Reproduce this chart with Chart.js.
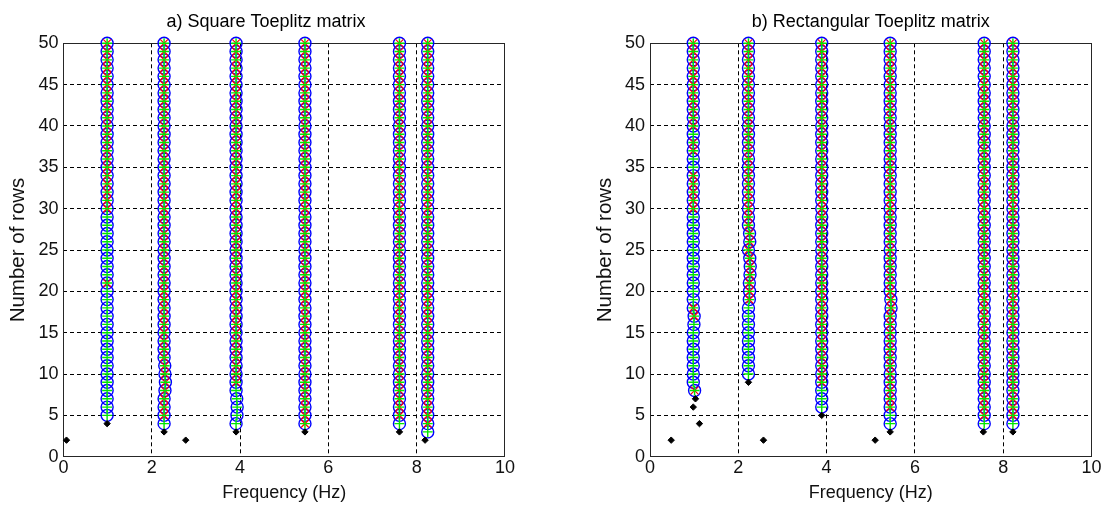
<!DOCTYPE html>
<html>
<head>
<meta charset="utf-8">
<script src="https://cdn.jsdelivr.net/npm/chart.js@4.4.1/dist/chart.umd.min.js"></script>
<style>
  html, body { margin: 0; padding: 0; background: #fff; overflow: hidden; }
  .plot { position: absolute; top: 0; }
  #plotA { left: 0; }
  #plotB { left: 585px; }
</style>
</head>
<body>
<div class="plot" id="plotA"><canvas id="chartA" width="532" height="511"></canvas></div>
<div class="plot" id="plotB"><canvas id="chartB" width="522" height="511"></canvas></div>
<script>
////////////////////////////////////////////////////////////////////////////////
// data

const maxRow = 50;
const xTicks = [0, 2, 4, 6, 8, 10];
const yTicks = [0, 5, 10, 15, 20, 25, 30, 35, 40, 45, 50];

// a) square Toeplitz matrix
const freqA = [0.99, 2.28, 3.91, 5.47, 7.61, 8.25];
const firstRowA = [5, 4, 4, 4, 4, 3];
const firstRedA = [30, 5, 9, 4, 5, 4];
const extraRedA = [[21], [], [], [], [], []];
const shiftA = [{}, {8: 0.02, 9: 0.03, 10: 0.02, 11: 0.015}, {5: 0.02, 6: 0.025, 7: 0.015}, {}, {}, {}];
const dotFreqA = [0.07, 0.99, 2.28, 2.77, 3.91, 5.47, 7.61, 8.19];
const dotRowA = [2, 4, 3, 2, 3, 3, 3, 2];

// b) rectangular Toeplitz matrix
const freqB = [0.98, 2.23, 3.89, 5.44, 7.57, 8.22];
const firstRowB = [8, 10, 6, 4, 4, 4];
const firstRedB = [40, 19, 9, 6, 5, 5];
const extraRedB = [[8, 17, 18, 30, 31, 32, 33, 34, 37, 38], [], [], [], [], []];
const shiftB = [{8: 0.03, 16: 0.015, 17: 0.02},
                {19: 0.02, 20: 0.025, 21: 0.02, 22: 0.035, 23: 0.04, 24: 0.03, 26: 0.03, 27: 0.025},
                {}, {18: 0.02, 19: 0.015}, {}, {}];
const dotFreqB = [0.48, 1.12, 0.98, 1.03, 2.23, 2.57, 3.89, 5.10, 5.44, 7.55, 8.22];
const dotRowB = [2, 4, 6, 7, 9, 2, 5, 2, 3, 3, 3];

////////////////////////////////////////////////////////////////////////////////

const FONT = "'Liberation Sans', Arial, sans-serif";
const TXT = '#111';

function buildSeries(freqs, firstRows, firstRed, extraRed, shifts) {
    const circles = [], pluses = [], crosses = [];
    freqs.forEach((f, i) => {
        for (let r = firstRows[i]; r <= maxRow; r++) {
            const x = f + (shifts[i][r] || 0);
            circles.push({x: x, y: r});
            pluses.push({x: x, y: r});
            if (r >= firstRed[i] || extraRed[i].includes(r)) crosses.push({x: x, y: r});
        }
    });
    return {circles, pluses, crosses};
}

// grid lines only inside the box, the box itself is drawn solid
const innerGrid = (first, last) => c =>
    (c.tick && (c.tick.value === first || c.tick.value === last)) ? 'rgba(0,0,0,0)' : '#000';

const framePlugin = {
    id: 'frame',
    beforeDatasetsDraw(chart) {
        const {ctx, chartArea: a} = chart;
        ctx.save();
        ctx.strokeStyle = '#262626';
        ctx.lineWidth = 1;
        ctx.setLineDash([]);
        ctx.strokeRect(Math.round(a.left) + 0.5, Math.round(a.top) + 0.5,
                       Math.round(a.right) - Math.round(a.left) - 1, Math.round(a.bottom) - Math.round(a.top) - 1);
        ctx.restore();
    }
};

function makeChart(id, title, s, dotFreq, dotRow, cfg) {
    const dots = dotFreq.map((f, i) => ({x: f, y: dotRow[i]}));
    const ctx = document.getElementById(id).getContext('2d');
    return new Chart(ctx, {
        type: 'scatter',
        data: {
            datasets: [
                {label: 'dots', data: dots, pointStyle: 'rectRot', pointRadius: 3.2,
                 backgroundColor: '#000', borderColor: '#000', borderWidth: 1, clip: false},
                {label: 'plus', data: s.pluses, pointStyle: 'cross', pointRadius: 5,
                 borderColor: '#00e600', borderWidth: 1.4, clip: false},
                {label: 'x', data: s.crosses, pointStyle: 'crossRot', pointRadius: 5.5,
                 borderColor: '#ff0000', borderWidth: 1.2, clip: false},
                {label: 'circles', data: s.circles, pointStyle: 'circle', pointRadius: 6,
                 backgroundColor: 'rgba(0,0,0,0)', borderColor: '#0000ff', borderWidth: 1.4, clip: false}
            ]
        },
        options: {
            responsive: false,
            animation: false,
            events: [],
            layout: {padding: 0},
            plugins: {
                legend: {display: false},
                tooltip: {enabled: false},
                title: {
                    display: true, text: title, color: '#000', fullSize: cfg.titleFull,
                    font: {family: FONT, size: 18, weight: 'normal'},
                    padding: {top: 11, bottom: 10.7}
                }
            },
            scales: {
                x: {
                    type: 'linear', min: 0, max: 10,
                    afterBuildTicks: sc => { sc.ticks = xTicks.map(v => ({value: v})); },
                    afterFit: sc => { sc.height = 54.3; },
                    ticks: {font: {family: FONT, size: 18}, color: TXT, padding: 1},
                    grid: {color: innerGrid(0, 10), lineWidth: 1, drawTicks: false},
                    border: {display: false, dash: [4, 3]},
                    title: {display: true, text: 'Frequency (Hz)', color: TXT,
                            font: {family: FONT, size: 18}, padding: {top: 0, bottom: 7}}
                },
                y: {
                    type: 'linear', min: 0, max: 50,
                    afterBuildTicks: sc => { sc.ticks = yTicks.map(v => ({value: v})); },
                    afterFit: sc => { sc.width = cfg.yWidth; },
                    ticks: {font: {family: FONT, size: 18}, color: TXT, padding: 5},
                    grid: {color: innerGrid(0, 50), lineWidth: 1, drawTicks: false},
                    border: {display: false, dash: [4, 3]},
                    title: {display: true, text: 'Number of rows', color: TXT,
                            font: {family: FONT, size: 20.5}, padding: {top: cfg.yTitlePad, bottom: 0}}
                },
                yRight: {
                    type: 'linear', position: 'right', min: 0, max: 50,
                    afterFit: sc => { sc.width = cfg.rightWidth; },
                    ticks: {display: false},
                    grid: {display: false, drawTicks: false},
                    border: {display: false}
                }
            }
        },
        plugins: [framePlugin]
    });
}

const seriesA = buildSeries(freqA, firstRowA, firstRedA, extraRedA, shiftA);
const seriesB = buildSeries(freqB, firstRowB, firstRedB, extraRedB, shiftB);

makeChart('chartA', 'a) Square Toeplitz matrix', seriesA, dotFreqA, dotRowA,
          {yWidth: 63.4, yTitlePad: 5.7, rightWidth: 27, titleFull: true});
makeChart('chartB', 'b) Rectangular Toeplitz matrix', seriesB, dotFreqB, dotRowB,
          {yWidth: 65, yTitlePad: 7.7, rightWidth: 15.5, titleFull: false});
</script>
</body>
</html>
